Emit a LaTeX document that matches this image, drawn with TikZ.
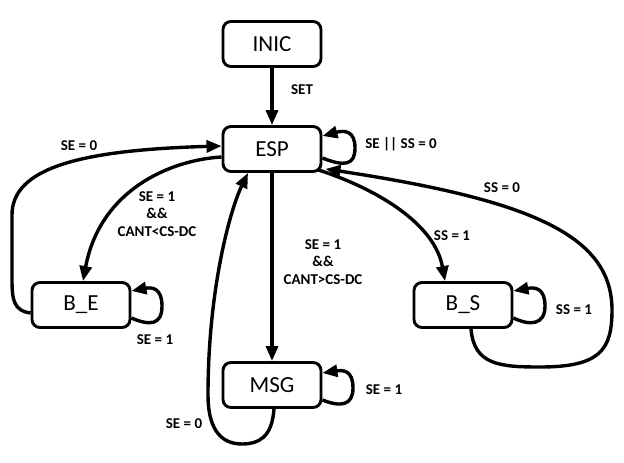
\documentclass[tikz,border=0pt]{standalone}
\usepackage{fontspec}
\setmainfont{Carlito}
\usetikzlibrary{arrows.meta}
\begin{document}
\begin{tikzpicture}[x=1pt,y=-1pt,
  state/.style={draw,line width=2.9pt,rounded corners=8pt,minimum width=98pt,minimum height=45pt,font=\fontsize{23}{26}\selectfont,inner sep=0pt},
  tr/.style={line width=3.4pt,-{Triangle[length=15pt,width=12pt]}},
  lbl/.style={font=\bfseries\fontsize{15}{17.5}\selectfont,align=center,inner sep=0pt}]
\useasboundingbox (0,0) rectangle (624,463);
\node[state] (inic) at (272,44) {INIC};
\node[state] (esp) at (272,149) {ESP};
\node[state] (be) at (81,305) {B\_E};
\node[state] (bs) at (463,305) {B\_S};
\node[state] (msg) at (272,385) {MSG};
% INIC -> ESP
\draw[tr] (inic) -- (esp);
% ESP -> MSG
\draw[tr] (esp) -- (msg);
% ESP self loop
\draw[tr] ([yshift=-9pt]esp.east) .. controls (345,167) and (355,165) .. (355,148)
  .. controls (355,131) and (345,130) .. ([yshift=13pt]esp.east);
% B_E self loop
\draw[tr] ([yshift=-13pt]be.east) .. controls (150,326) and (162,325) .. (162,306)
  .. controls (162,288) and (152,287) .. ([yshift=14pt]be.east);
% B_S self loop
\draw[tr] ([yshift=-13pt]bs.east) .. controls (530,326) and (545,325) .. (545,306)
  .. controls (545,288) and (535,287) .. ([yshift=14pt]bs.east);
% MSG self loop
\draw[tr] ([yshift=-15pt]msg.east) .. controls (340,407) and (353,406) .. (353,388)
  .. controls (353,370) and (343,370) .. ([yshift=12pt]msg.east);
% ESP -> B_E
\draw[tr] ([yshift=-8pt]esp.west) .. controls (170,160) and (100,190) .. ([xshift=2pt]be.north);
% B_E -> ESP
\draw[tr] ([yshift=-8pt]be.west) .. controls (14,311) and (12,300) .. (12,280) -- (12,215)
  .. controls (12,168) and (80,150) .. ([yshift=3pt]esp.west);
% MSG -> ESP
\draw[tr] ([xshift=2pt]msg.south) .. controls (272,438) and (258,444) .. (242,444)
  .. controls (218,444) and (208,425) .. (208,395)
  .. controls (208,290) and (230,210) .. ([xshift=-24pt]esp.south);
% ESP -> B_S
\draw[tr] ([xshift=-4pt,yshift=3pt]esp.south east) .. controls (380,190) and (435,225) .. ([xshift=-18pt]bs.north);
% B_S -> ESP
\draw[tr] ([xshift=8pt]bs.south) .. controls (474,365) and (500,367) .. (540,367)
  .. controls (600,367) and (612,350) .. (612,310)
  .. controls (612,235) and (530,200) .. ([xshift=3pt,yshift=4pt]esp.south east);
% labels
\node[lbl] (l1) at (302,90) {SET};
\node[lbl] (l2) at (401,144) {SE || SS = 0};
\node[lbl] (l3) at (79,146) {SE = 0};
\node[lbl] (l4) at (157,214) {SE = 1\\\&\&\\CANT<CS-DC};
\node[lbl] (l5) at (155,340) {SE = 1};
\node[lbl] (l6) at (323,262) {SE = 1\\\&\&\\CANT>CS-DC};
\node[lbl] (l7) at (452,236) {SS = 1};
\node[lbl] (l8) at (502,188) {SS = 0};
\node[lbl] (l9) at (574,310) {SS = 1};
\node[lbl] (l10) at (384,390) {SE = 1};
\node[lbl] (l11) at (184,424) {SE = 0};
\end{tikzpicture}
\end{document}
